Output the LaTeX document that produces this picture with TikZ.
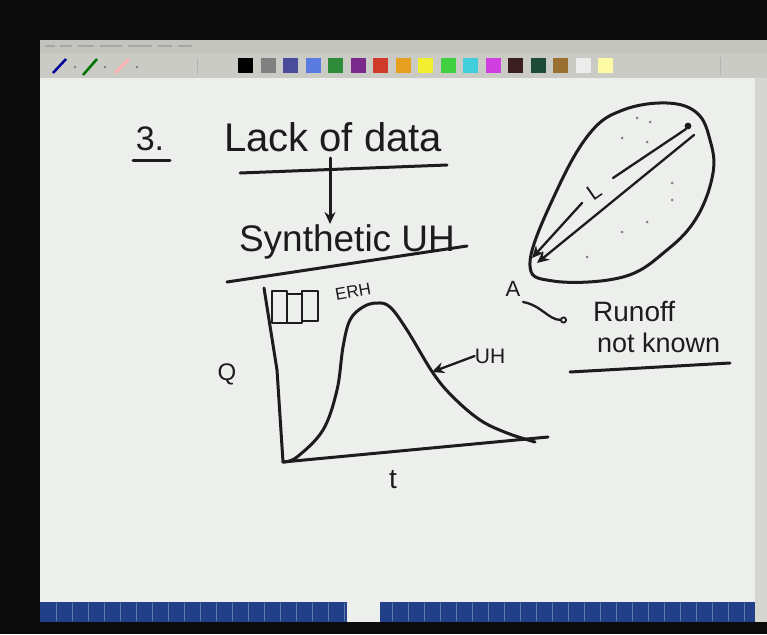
\documentclass[tikz,border=0pt]{standalone}
\usepackage{fontspec}
\setmainfont{Liberation Sans}
\usetikzlibrary{arrows.meta,calc}
\definecolor{ink}{HTML}{1C1C1C}
\definecolor{screen}{HTML}{0B0B0B}
\definecolor{page}{HTML}{EDEFEC}
\definecolor{chrome}{HTML}{CBCBC6}
\definecolor{menu}{HTML}{C4C4BF}
\definecolor{navy}{HTML}{22408A}
\definecolor{slate}{HTML}{4B4B9B}
\definecolor{sky}{HTML}{5A7BE0}
\definecolor{leaf}{HTML}{2E8B3A}
\definecolor{plum}{HTML}{7A2A8A}
\definecolor{brick}{HTML}{D03A2A}
\definecolor{amber}{HTML}{E8A020}
\definecolor{lemon}{HTML}{F2EE30}
\definecolor{lime}{HTML}{40D040}
\definecolor{aqua}{HTML}{40CFD8}
\definecolor{pink}{HTML}{D040E0}
\definecolor{maroon}{HTML}{3A1E22}
\definecolor{pine}{HTML}{1E4A3A}
\definecolor{ochre}{HTML}{9A7030}
\tikzset{
  x=1pt,y=-1pt,
  pen/.style={draw=ink,line width=3pt,line cap=round,line join=round},
  thin/.style={pen,line width=2.3pt},
  tip/.style={-{Stealth[length=12pt,width=11pt]}},
  hand/.style={text=ink,inner sep=0pt},
  swatch/.style={minimum size=15pt,inner sep=0pt},
  speck/.style={circle,fill=ink!55,inner sep=0pt,minimum size=3pt}
}
\begin{document}
\begin{tikzpicture}
\useasboundingbox (0,0) rectangle (767,634);
\fill[screen] (0,0) rectangle (767,634);
\fill[menu] (40,40) rectangle (767,53);
\fill[chrome] (40,53) rectangle (767,78);
\fill[page] (40,78) rectangle (755,602);
\fill[chrome!80] (755,78) rectangle (767,622);
\fill[navy] (40,602) rectangle (755,622);
\foreach \x in {56,72,...,750} \draw[navy!70!white,line width=.4pt] (\x,603) -- (\x,621);
\fill[page] (347,602) rectangle (380,622);
\foreach \x/\w in {45/10,60/12,78/16,100/22,128/24,158/14,178/14} \draw[gray!70,line width=2pt] (\x,46) -- ++(\w,0);
\draw[blue!60!black,line width=2.5pt] (53,73) -- (66,59);
\draw[green!45!black,line width=2.5pt] (83,75) -- (97,59);
\draw[red!30!white,line width=2.5pt] (115,73) -- (129,59);
\foreach \x in {75,105,137} \fill[gray] (\x,67) circle (1.3pt);
\draw[gray!60,line width=.8pt] (197,58) -- (197,74) (720,57) -- (720,75);
\foreach \c [count=\i from 0] in {black,gray,slate,sky,leaf,plum,brick,amber,lemon,lime,aqua,pink,maroon,pine,ochre,gray!15,yellow!35}
  \node[swatch,fill=\c] (sw\i) at (245.5+22.5*\i,65.5) {};

\node[hand,font=\fontsize{34}{34}\selectfont,anchor=base] (num) at (150,150) {3.};
\draw[pen] (133,160) -- (170,160);
\node[hand,font=\fontsize{40}{40}\selectfont,anchor=base] (lack) at (333,151) {Lack of data};
\draw[pen] (240,173) -- (447,165);
\node[hand,font=\fontsize{37}{37}\selectfont,anchor=base] (synth) at (347,251) {Synthetic UH};
\draw[pen] (227,282) -- (467,246);
\coordinate (split) at (330,158);
\draw[pen,tip] (split) -- (synth.north -| split);

\coordinate (qtop) at (264,288);
\coordinate (origin) at (283,462);
\coordinate (tend) at (548,437);
\draw[pen] (qtop) -- (277,370) -- (origin) -- (tend);
\draw[thin] (272,291) rectangle (287,323) (287,294) rectangle (302,323) (302,291) rectangle (318,321);
\node[hand,font=\fontsize{17}{17}\selectfont,rotate=10] (erh) at (353,292) {ERH};
\node[hand,font=\fontsize{24}{24}\selectfont] (qlab) at (227,374) {Q};
\node[hand,font=\fontsize{28}{28}\selectfont] (tlab) at (393,480) {t};
\draw[pen] plot[smooth,tension=.6] coordinates {(origin) (297,457) (323,430) (337,390) (343,347) (350,320) (363,307) (377,303) (390,307) (407,330) (433,373) (453,397) (480,420) (507,433) (535,442)};
\node[hand,font=\fontsize{21}{21}\selectfont] (uh) at (490,356) {UH};
\coordinate (uhpt) at (432,372);
\draw[thin,tip] (uh.west) -- (uhpt);

\draw[pen] plot[smooth cycle,tension=.65] coordinates {(530,262) (557,190) (590,133) (623,110) (667,103) (697,113) (710,140) (713,173) (697,217) (667,250) (623,277) (553,281)};
\fill[ink] (688,126) circle (3.4pt);
\coordinate (src) at (686,129);
\coordinate (outlet) at (532,258);
\node[hand,font=\fontsize{22}{22}\selectfont,rotate=35] (len) at (594,192) {L};
\draw[thin] (src) -- (613,178);
\draw[thin,tip] (582,203) -- (outlet);
\draw[thin,tip] (694,135) -- (537,263);
\foreach \p in {(637,118),(650,122),(622,138),(647,142),(672,183),(672,200),(647,222),(622,232),(587,257)}
  \node[speck] at \p {};
\node[hand,font=\fontsize{22}{22}\selectfont] (A) at (513,289) {A};
\node[hand,font=\fontsize{28}{28}\selectfont,anchor=base west] (runoff) at (593,321) {Runoff};
\node[hand,font=\fontsize{27}{27}\selectfont,anchor=base west] (known) at (597,352) {not known};
\coordinate (aout) at (523,302);
\coordinate (rtip) at (567,320);
\draw[thin,-{Circle[open,length=7pt,line width=1.8pt]}] (aout) to[out=-10,in=180] (rtip);
\draw[pen] (570,372) -- (730,363);
\end{tikzpicture}
\end{document}
